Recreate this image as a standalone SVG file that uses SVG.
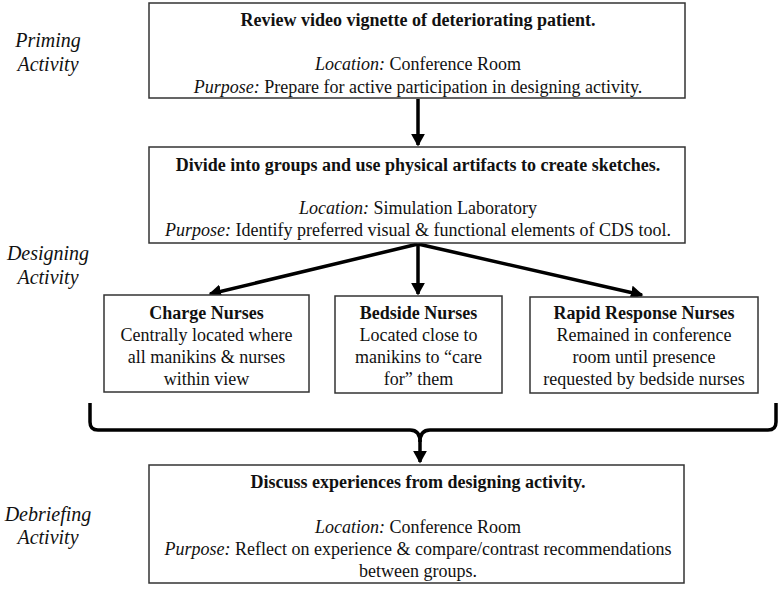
<svg xmlns="http://www.w3.org/2000/svg" width="780" height="590" viewBox="0 0 780 590">
<defs>
<style>
text{font-family:"Liberation Serif","Times New Roman",serif;fill:#111;}
.t{font-size:18px;text-anchor:middle;}
.b{font-weight:bold;}
.i{font-style:italic;}
.lab{font-size:20px;font-style:italic;text-anchor:middle;}
.box{fill:#fff;stroke:#333;stroke-width:1.5;}
.con{fill:none;stroke:#000;stroke-width:3.5;}
</style>
<marker id="ah" markerWidth="4" markerHeight="4" refX="3.2" refY="2" orient="auto" markerUnits="strokeWidth">
<path d="M0,0 L3.6,2 L0,4 Z" fill="#000"/>
</marker>
</defs>
<rect width="780" height="590" fill="#fff"/>
<g id="labels">
<text class="lab" x="48" y="47">Priming</text>
<text class="lab" x="48" y="71">Activity</text>
<text class="lab" x="48" y="260">Designing</text>
<text class="lab" x="48" y="284">Activity</text>
<text class="lab" x="48" y="521">Debriefing</text>
<text class="lab" x="48" y="544">Activity</text>
</g>
<g id="connectors">
<line class="con" x1="418" y1="99" x2="418" y2="145" marker-end="url(#ah)"/>
<line class="con" x1="418" y1="244" x2="418" y2="294" marker-end="url(#ah)"/>
<line class="con" x1="418" y1="244" x2="210" y2="294" marker-end="url(#ah)"/>
<line class="con" x1="418" y1="244" x2="642" y2="295" marker-end="url(#ah)"/>
<path class="con" d="M90,403 L90,422 Q90,430 98,430 L410,430 Q420,430 420,442 Q420,430 430,430 L768,430 Q776,430 776,422 L776,403"/>
<line class="con" x1="420" y1="440" x2="420" y2="462" marker-end="url(#ah)"/>
</g>
<g id="priming">
<rect class="box" x="149" y="3" width="536" height="95"/>
<text class="t b" x="418" y="26">Review video vignette of deteriorating patient.</text>
<text class="t" x="418" y="70"><tspan class="i">Location:</tspan> Conference Room</text>
<text class="t" x="418" y="93"><tspan class="i">Purpose:</tspan> Prepare for active participation in designing activity.</text>
</g>
<g id="designing">
<rect class="box" x="149" y="147" width="536" height="96"/>
<text class="t b" x="418" y="171">Divide into groups and use physical artifacts to create sketches.</text>
<text class="t" x="418" y="214"><tspan class="i">Location:</tspan> Simulation Laboratory</text>
<text class="t" x="418" y="236"><tspan class="i">Purpose:</tspan> Identify preferred visual &amp; functional elements of CDS tool.</text>
</g>
<g id="charge">
<rect class="box" x="104" y="295" width="205" height="97"/>
<text class="t b" x="206.5" y="319">Charge Nurses</text>
<text class="t" x="206.5" y="341">Centrally located where</text>
<text class="t" x="206.5" y="363">all manikins &amp; nurses</text>
<text class="t" x="206.5" y="385">within view</text>
</g>
<g id="bedside">
<rect class="box" x="335" y="296" width="167" height="97"/>
<text class="t b" x="418.5" y="319">Bedside Nurses</text>
<text class="t" x="418.5" y="341">Located close to</text>
<text class="t" x="418.5" y="363">manikins to “care</text>
<text class="t" x="418.5" y="385">for” them</text>
</g>
<g id="rapid">
<rect class="box" x="530" y="297" width="228" height="96"/>
<text class="t b" x="644" y="319">Rapid Response Nurses</text>
<text class="t" x="644" y="341">Remained in conference</text>
<text class="t" x="644" y="363">room until presence</text>
<text class="t" x="644" y="385">requested by bedside nurses</text>
</g>
<g id="debriefing">
<rect class="box" x="149" y="465" width="535" height="118"/>
<text class="t b" x="418" y="488">Discuss experiences from designing activity.</text>
<text class="t" x="418" y="533"><tspan class="i">Location:</tspan> Conference Room</text>
<text class="t" x="418" y="555"><tspan class="i">Purpose:</tspan> Reflect on experience &amp; compare/contrast recommendations</text>
<text class="t" x="418" y="577">between groups.</text>
</g>
</svg>
